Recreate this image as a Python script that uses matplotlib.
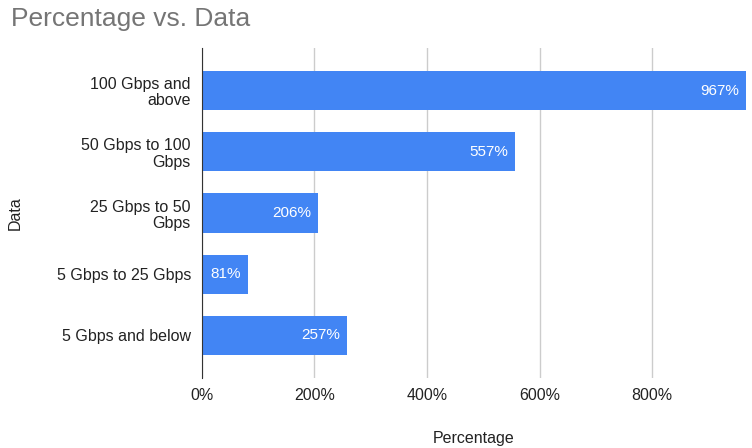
import matplotlib.pyplot as plt

plt.rcParams['font.family'] = ['Liberation Sans', 'DejaVu Sans']

categories = ["100 Gbps and\nabove", "50 Gbps to 100\nGbps", "25 Gbps to 50\nGbps",
              "5 Gbps to 25 Gbps", "5 Gbps and below"]
percentages = [967, 557, 206, 81, 257]
x_ticks = [0, 200, 400, 600, 800]
x_tick_labels = ["0%", "200%", "400%", "600%", "800%"]

fig = plt.figure(figsize=(7.52, 4.48), dpi=100)
ax = fig.add_axes([0.2686, 0.156, 0.7234, 0.737])

y_pos = list(range(len(categories)))
bars = ax.barh(y_pos, percentages, height=0.64, color='#4285F4', zorder=2)

# value labels inside the right end of each bar
for bar, value in zip(bars, percentages):
    ax.text(bar.get_width() - 12, bar.get_y() + bar.get_height() / 2, f"{value}%",
            ha='right', va='center', color='white', fontsize=11)

ax.set_yticks(y_pos)
ax.set_yticklabels(categories, fontsize=11.5, color='#222222', linespacing=1.1)
ax.set_ylim(4.7, -0.7)
ax.set_xlim(0, 967)
ax.set_xticks(x_ticks)
ax.set_xticklabels(x_tick_labels, fontsize=11.5, color='#222222')
ax.tick_params(length=0, pad=8)
ax.tick_params(axis='x', pad=7)

ax.grid(axis='x', color='#cccccc', linewidth=1, zorder=0)
for side in ['top', 'right', 'bottom']:
    ax.spines[side].set_visible(False)
ax.spines['left'].set_color('#333333')
ax.spines['left'].set_zorder(3)

ax.set_xlabel("Percentage", fontsize=11.5, color='#222222', labelpad=20)
ax.set_ylabel("Data", fontsize=11.5, color='#222222')
ax.yaxis.set_label_coords(-0.33, 0.5)

fig.text(0.014, 0.958, "Percentage vs. Data", fontsize=19, color='#757575',
         ha='left', va='center')

fig.savefig("out.png", dpi=100)
